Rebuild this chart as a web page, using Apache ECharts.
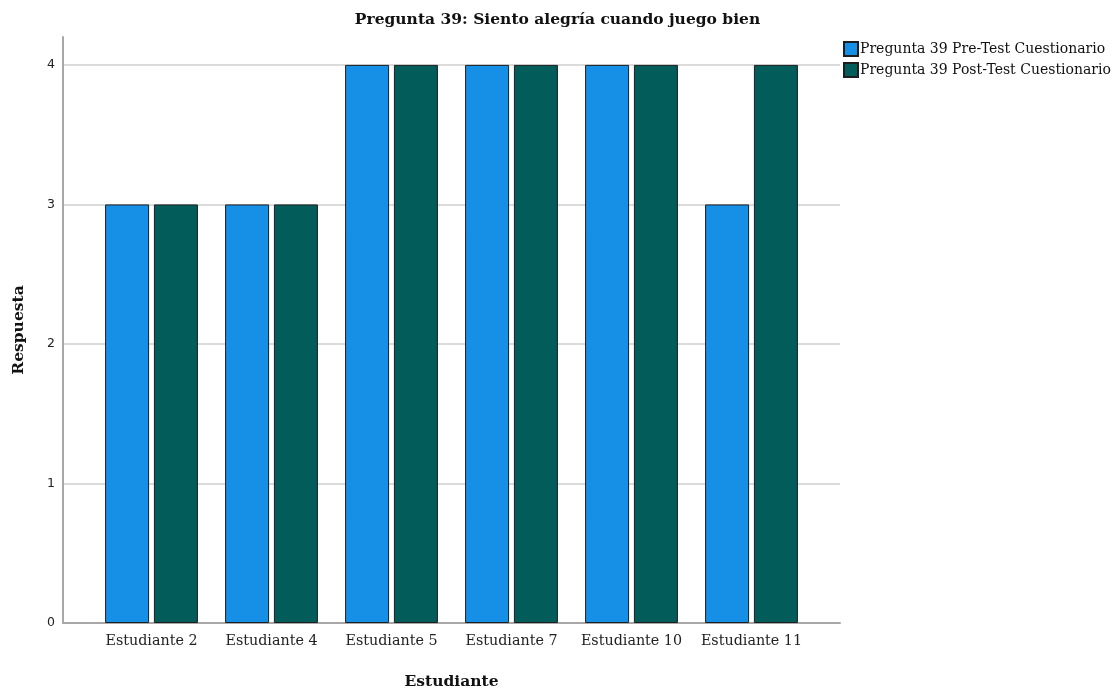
<!DOCTYPE html>
<html>
<head>
<meta charset="utf-8">
<script src="https://cdn.jsdelivr.net/npm/echarts@6/dist/echarts.min.js"></script>
<style>html,body{margin:0;padding:0;background:#fff}#c{width:1115px;height:688px}</style>
</head>
<body>
<div id="c"></div>
<script>
const titleText = 'Pregunta 39: Siento alegría cuando juego bien';
const categories = ['Estudiante 2','Estudiante 4','Estudiante 5','Estudiante 7','Estudiante 10','Estudiante 11'];
const seriesNames = ['Pregunta 39 Pre-Test Cuestionario','Pregunta 39 Post-Test Cuestionario'];
const preValues = [3,3,4,4,4,3];
const postValues = [3,3,4,4,4,4];
const yTicks = [0,1,2,3,4];

const serif = '"DejaVu Serif", serif';
const chart = echarts.init(document.getElementById('c'));
const gTop = 37, gH = 586;
chart.setOption({
  animation: false,
  title: { text: titleText, left: 'center', top: 7, textStyle: { fontFamily: serif, fontWeight: 'bold', fontSize: 15.5, color: '#111' } },
  legend: {
    orient: 'vertical', left: 838, top: 36, itemWidth: 14, itemHeight: 14, itemGap: 5,
    icon: 'rect',
    textStyle: { fontFamily: serif, fontSize: 14, color: '#111', padding: [0,0,0,-3] },
    data: seriesNames
  },
  grid: [
    { left: 63, top: gTop, width: 777, height: gH, outerBoundsMode: 'none' },
    { left: 91.5, top: gTop, width: 720, height: gH, outerBoundsMode: 'none' }
  ],
  xAxis: [
    { gridIndex: 0, type: 'category', data: [''], axisLine: { lineStyle: { color: '#a8a8a8', width: 2 } }, axisTick: { show: false }, axisLabel: { show: false },
      name: 'Estudiante', nameLocation: 'middle', nameGap: 51, nameTextStyle: { fontFamily: serif, fontWeight: 'bold', fontSize: 15.5, color: '#111' } },
    { gridIndex: 1, type: 'category', data: categories, axisLine: { show: false }, axisTick: { show: false },
      axisLabel: { interval: 0, hideOverlap: false, fontFamily: serif, fontSize: 14.3, color: '#222', margin: 11 } }
  ],
  yAxis: [
    { gridIndex: 0, type: 'value', min: 0, max: 4.2, interval: 1,
      axisLine: { show: true, lineStyle: { color: '#a8a8a8', width: 2 } }, axisTick: { show: false },
      axisLabel: { fontFamily: '"DejaVu Sans", sans-serif', fontSize: 12.5, color: '#222', margin: 8, showMaxLabel: false,
        formatter: v => yTicks.includes(v) ? String(v) : '' },
      splitLine: { show: true, showMaxLine: false, lineStyle: { color: '#cfcfcf', width: 1.5 } },
      name: 'Respuesta', nameLocation: 'middle', nameGap: 36, nameTextStyle: { fontFamily: serif, fontWeight: 'bold', fontSize: 15.5, color: '#111' } },
    { gridIndex: 1, type: 'value', min: 0, max: 4.2, interval: 1, show: false, splitLine: { show: false } }
  ],
  series: [
    { name: seriesNames[0], type: 'bar', xAxisIndex: 1, yAxisIndex: 1, data: preValues, barWidth: 44, barGap: '11%',
      itemStyle: { color: '#1590e6', borderColor: '#1e1e1e', borderWidth: 1 } },
    { name: seriesNames[1], type: 'bar', xAxisIndex: 1, yAxisIndex: 1, data: postValues, barWidth: 44, barGap: '11%',
      itemStyle: { color: '#015c5a', borderColor: '#1e1e1e', borderWidth: 1 } }
  ]
});
</script>
</body>
</html>
